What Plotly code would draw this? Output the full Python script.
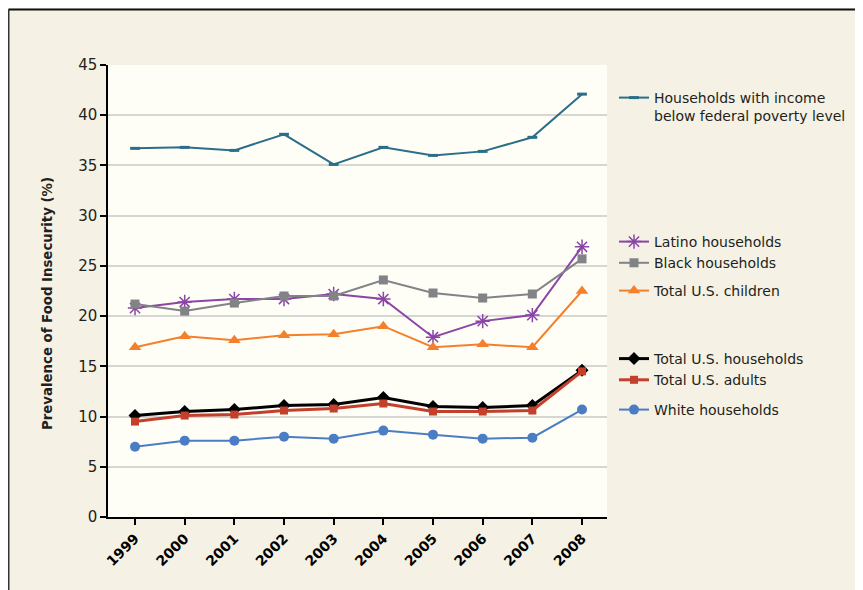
import plotly.graph_objects as go

years = [1999, 2000, 2001, 2002, 2003, 2004, 2005, 2006, 2007, 2008]
poverty = [36.7, 36.8, 36.5, 38.1, 35.1, 36.8, 36.0, 36.4, 37.8, 42.1]
latino = [20.8, 21.4, 21.7, 21.7, 22.2, 21.7, 17.9, 19.5, 20.1, 26.9]
black = [21.2, 20.5, 21.3, 22.0, 22.0, 23.6, 22.3, 21.8, 22.2, 25.7]
children = [16.9, 18.0, 17.6, 18.1, 18.2, 19.0, 16.9, 17.2, 16.9, 22.5]
households = [10.1, 10.5, 10.7, 11.1, 11.2, 11.9, 11.0, 10.9, 11.1, 14.6]
adults = [9.5, 10.1, 10.2, 10.6, 10.8, 11.3, 10.5, 10.5, 10.6, 14.5]
white = [7.0, 7.6, 7.6, 8.0, 7.8, 8.6, 8.2, 7.8, 7.9, 10.7]
y_ticks = [0, 5, 10, 15, 20, 25, 30, 35, 40, 45]

# page body has an 8px margin; figure coordinates = screen - 8
W, H = 855, 582
L, T = 100, 57
PW, PH = 499, 452
R, B = W - L - PW, H - T - PH


def xp(px):
    return (px - L) / PW


def yp(py):
    return (T + PH - py) / PH


FONT = "DejaVu Sans"
cream = "#f5f1e4"

fig = go.Figure()

series = [
    ("Households with income<br>below federal poverty level", poverty, "#2b6e88", 2,
     dict(symbol="line-ew", size=7, line=dict(width=3, color="#2b6e88")), "legend"),
    ("Latino households", latino, "#8b45a6", 2,
     dict(symbol="asterisk-open", size=12, line=dict(width=1.5, color="#8b45a6")), "legend2"),
    ("Black households", black, "#818386", 2,
     dict(symbol="square", size=9, color="#818386"), "legend2"),
    ("Total U.S. children", children, "#f5802b", 2,
     dict(symbol="triangle-up", size=11, color="#f5802b"), "legend3"),
    ("Total U.S. households", households, "#000000", 3,
     dict(symbol="diamond", size=10, color="#000000"), "legend4"),
    ("Total U.S. adults", adults, "#c2402c", 3,
     dict(symbol="square", size=8, color="#c2402c"), "legend4"),
    ("White households", white, "#4a7dc4", 2,
     dict(symbol="circle", size=10, color="#4a7dc4"), "legend5"),
]

for name, vals, col, lw, mk, lg in series:
    fig.add_trace(go.Scatter(
        x=years, y=vals, name=name, mode="lines+markers",
        line=dict(color=col, width=lw), marker=mk, legend=lg,
        cliponaxis=False,
    ))

legend_common = dict(
    bgcolor="rgba(0,0,0,0)", borderwidth=0,
    font=dict(family=FONT, size=14, color="#231f20"),
    xanchor="left", yanchor="top", x=xp(606), itemwidth=30,
    tracegroupgap=0,
)

layout_legends = {
    "legend": dict(y=yp(74), valign="top", **legend_common),
    "legend2": dict(y=yp(218), **legend_common),
    "legend3": dict(y=yp(267), **legend_common),
    "legend4": dict(y=yp(335), **legend_common),
    "legend5": dict(y=yp(386), **legend_common),
}

shapes = [
    dict(type="line", xref="paper", yref="paper", x0=xp(0.5), x1=xp(0.5), y0=-1, y1=yp(1.5),
         line=dict(color="#333333", width=2)),
    dict(type="line", xref="paper", yref="paper", x0=xp(0.5), x1=2, y0=yp(1.5), y1=yp(1.5),
         line=dict(color="#111111", width=2)),
]

fig.update_layout(
    width=W, height=H,
    margin=dict(l=L, r=R, t=T, b=B),
    paper_bgcolor=cream,
    plot_bgcolor="#fefef7",
    showlegend=True,
    shapes=shapes,
    annotations=[dict(
        text="<b>Prevalence of Food Insecurity (%)</b>", xref="paper", yref="paper",
        x=xp(39), y=yp(296), textangle=-90, showarrow=False,
        font=dict(family=FONT, size=13.3, color="#231f20"),
        xanchor="center", yanchor="middle",
    )],
    **layout_legends,
)

fig.update_xaxes(
    range=[1998.456, 2008.503], tickvals=years, ticktext=[f"<b>{y}</b>" for y in years],
    tickangle=-45, ticks="outside", ticklen=6, tickwidth=1.5, tickcolor="#000000",
    showline=True, linecolor="#000000", linewidth=1.5, showgrid=False, zeroline=False,
    tickfont=dict(family=FONT, size=14, color="#000000"),
)
fig.update_yaxes(
    range=[0, 45], tickvals=y_ticks, ticks="outside", ticklen=6, tickwidth=1.5,
    tickcolor="#000000", showline=True, linecolor="#000000", linewidth=1.5,
    showgrid=True, gridcolor="#d6d6d2", gridwidth=1.5, zeroline=False,
    tickfont=dict(family=FONT, size=15, color="#231f20"),
)

fig.write_html("out.html")
